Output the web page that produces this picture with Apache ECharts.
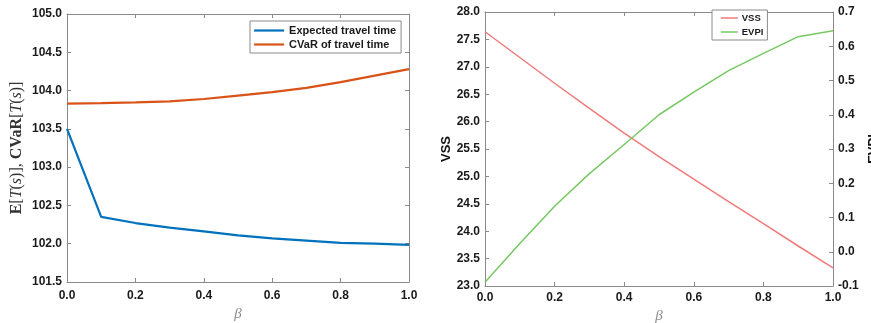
<!DOCTYPE html>
<html>
<head>
<meta charset="utf-8">
<script src="https://cdn.jsdelivr.net/npm/echarts@6/dist/echarts.min.js"></script>
<style>
  html, body { margin: 0; padding: 0; background: #ffffff; }
  #chart { width: 871px; height: 323px; }
</style>
</head>
<body>
<div id="chart"></div>
<script>
// Risk-aversion weight beta on the horizontal axis of both panels
const beta = [0.0, 0.1, 0.2, 0.3, 0.4, 0.5, 0.6, 0.7, 0.8, 0.9, 1.0];

// Left panel: expected travel time and CVaR of travel time
const expectedTime = [103.50, 102.35, 102.27, 102.21, 102.16, 102.11, 102.07, 102.04, 102.01, 102.00, 101.985];
const cvarTime     = [103.83, 103.835, 103.845, 103.86, 103.89, 103.935, 103.98, 104.035, 104.11, 104.195, 104.28];

// Right panel: value of the stochastic solution and expected value of perfect information
const vss  = [27.64, 27.17, 26.70, 26.24, 25.79, 25.36, 24.95, 24.54, 24.14, 23.73, 23.33];
const evpi = [-0.089, 0.024, 0.133, 0.228, 0.313, 0.400, 0.466, 0.529, 0.579, 0.628, 0.645];

// Tick settings
const betaTicks = { min: 0, max: 1, interval: 0.2 };
const timeTicks = { min: 101.5, max: 105, interval: 0.5 };
const vssTicks  = { min: 23, max: 28, interval: 0.5 };
const evpiTicks = { min: -0.1, max: 0.7, interval: 0.1 };

const pairs = (xs, ys) => xs.map((x, i) => [x, ys[i]]);

const axisGrey = '#8a8a8a';
const labelFont = {
  fontFamily: 'Liberation Sans, Arial, Helvetica, sans-serif',
  fontWeight: 'bold',
  fontSize: 12,
  color: '#1a1a1a'
};

function axis(opts, ticks, showLabels, margin) {
  return Object.assign({
    type: 'value',
    min: ticks.min,
    max: ticks.max,
    interval: ticks.interval,
    axisLine: { show: true, onZero: false, lineStyle: { color: axisGrey, width: 1 } },
    axisTick: { show: true, inside: true, length: 4, lineStyle: { color: axisGrey, width: 1 } },
    splitLine: { show: false },
    axisLabel: Object.assign({
      show: showLabels,
      margin: margin,
      formatter: v => v.toFixed(1)
    }, labelFont)
  }, opts);
}

const betaName = {
  name: 'β',
  nameLocation: 'middle',
  nameGap: 19,
  nameTextStyle: {
    fontFamily: 'Liberation Serif, DejaVu Serif, serif',
    fontStyle: 'italic',
    fontSize: 15,
    color: '#8c8c8c'
  }
};

const chart = echarts.init(document.getElementById('chart'), null, { renderer: 'canvas' });

chart.setOption({
  animation: false,
  backgroundColor: '#ffffff',
  grid: [
    { left: 67, top: 14, width: 342, height: 268, show: false, containLabel: false, outerBoundsMode: 'none' },
    { left: 485, top: 12, width: 348, height: 274, show: false, containLabel: false, outerBoundsMode: 'none' }
  ],
  xAxis: [
    axis(Object.assign({ gridIndex: 0, position: 'bottom' }, betaName), betaTicks, true, 8),
    axis({ gridIndex: 0, position: 'top' }, betaTicks, false, 8),
    axis(Object.assign({ gridIndex: 1, position: 'bottom' }, betaName, { nameGap: 17 }), betaTicks, true, 6),
    axis({ gridIndex: 1, position: 'top' }, betaTicks, false, 6)
  ],
  yAxis: [
    axis({
      gridIndex: 0,
      position: 'left',
      name: '{b|E}[{i|T}({i|s})], {b|CVaR}[{i|T}({i|s})]',
      nameLocation: 'middle',
      nameGap: 42,
      nameTextStyle: {
        fontFamily: 'Liberation Serif, DejaVu Serif, serif',
        fontSize: 16,
        color: '#333333',
        rich: {
          b: { fontFamily: 'Liberation Serif, DejaVu Serif, serif', fontWeight: 'bold', fontSize: 16, color: '#333333' },
          i: { fontFamily: 'Liberation Serif, DejaVu Serif, serif', fontStyle: 'italic', fontSize: 16, color: '#333333' }
        }
      }
    }, timeTicks, true, 5),
    axis({ gridIndex: 0, position: 'right' }, timeTicks, false, 5),
    axis({
      gridIndex: 1,
      position: 'left',
      name: 'VSS',
      nameLocation: 'middle',
      nameGap: 23,
      nameTextStyle: Object.assign({}, labelFont, { fontSize: 13, color: '#111111' })
    }, vssTicks, true, 5),
    axis({
      gridIndex: 1,
      position: 'right',
      name: 'EVPI',
      nameLocation: 'middle',
      nameGap: 34,
      nameRotate: 90,
      nameTextStyle: Object.assign({}, labelFont, { fontSize: 13, color: '#111111' })
    }, evpiTicks, true, 5)
  ],
  legend: [
    {
      data: ['Expected travel time', 'CVaR of travel time'],
      orient: 'vertical',
      left: 250,
      top: 21,
      padding: [4, 5, 3, 3],
      itemGap: 3,
      itemWidth: 30,
      itemHeight: 11,
      itemStyle: { opacity: 0 },
      lineStyle: { width: 2.2 },
      backgroundColor: '#ffffff',
      borderColor: '#8a8a8a',
      borderWidth: 1,
      borderRadius: 0,
      textStyle: Object.assign({}, labelFont, { fontSize: 11 })
    },
    {
      data: ['VSS', 'EVPI'],
      orient: 'vertical',
      left: 712,
      top: 10,
      padding: [3, 4, 3, 8],
      itemWidth: 17,
      itemHeight: 10,
      itemGap: 4,
      itemStyle: { opacity: 0 },
      lineStyle: { width: 1.5 },
      backgroundColor: '#ffffff',
      borderColor: '#8a8a8a',
      borderWidth: 1,
      borderRadius: 0,
      textStyle: Object.assign({}, labelFont, { fontSize: 9.5, padding: [0, 0, 0, -1] })
    }
  ],
  series: [
    {
      name: 'Expected travel time',
      type: 'line',
      xAxisIndex: 0, yAxisIndex: 0,
      data: pairs(beta, expectedTime),
      symbol: 'none',
      lineStyle: { color: '#0072BD', width: 2.2 },
      itemStyle: { color: '#0072BD' }
    },
    {
      name: 'CVaR of travel time',
      type: 'line',
      xAxisIndex: 0, yAxisIndex: 0,
      data: pairs(beta, cvarTime),
      symbol: 'none',
      lineStyle: { color: '#D95319', width: 2.2 },
      itemStyle: { color: '#D95319' }
    },
    {
      name: 'VSS',
      type: 'line',
      xAxisIndex: 2, yAxisIndex: 2,
      data: pairs(beta, vss),
      symbol: 'none',
      lineStyle: { color: '#F07A7A', width: 1.5 },
      itemStyle: { color: '#F07A7A' }
    },
    {
      name: 'EVPI',
      type: 'line',
      xAxisIndex: 2, yAxisIndex: 3,
      data: pairs(beta, evpi),
      symbol: 'none',
      lineStyle: { color: '#76C862', width: 1.5 },
      itemStyle: { color: '#76C862' }
    }
  ]
});
</script>
</body>
</html>
